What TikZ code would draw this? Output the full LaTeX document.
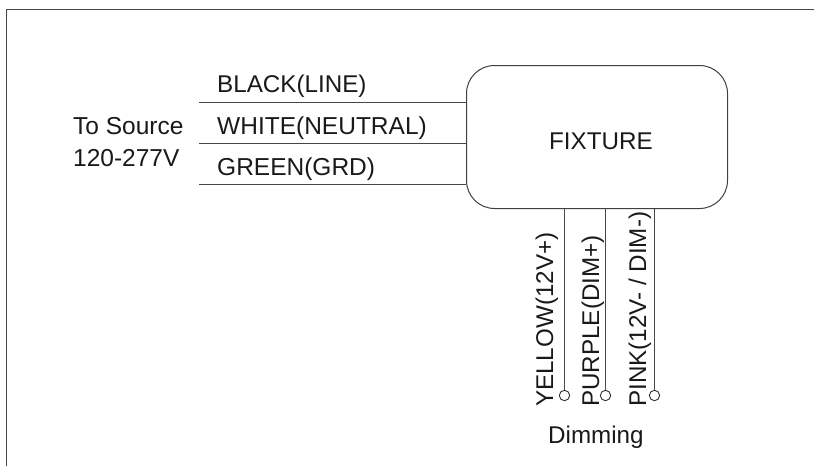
\documentclass[tikz,border=0pt]{standalone}
\usepackage{fontspec}
\setmainfont{Liberation Sans}
\tikzset{
  wire/.style={draw=black!72,line width=1pt},
  lbl/.style={inner sep=0pt,anchor=base west,font=\fontsize{24.5}{28}\selectfont,text=black!90},
  lblsmall/.style={lbl,font=\fontsize{24.2}{28}\selectfont},
  vlbl/.style={lblsmall,rotate=90},
  term/.style={circle,draw=black!80,line width=0.9pt,minimum size=10.4pt,inner sep=0pt},
  fixturebox/.style={draw=black!75,line width=1pt,rounded corners=28pt,minimum width=261pt,minimum height=143pt,inner sep=0pt,anchor=north west}
}
\begin{document}
\begin{tikzpicture}[x=1pt,y=-1pt]
\useasboundingbox (0,0) rectangle (814,466);
\coordinate (ftl) at (6.5,9.5);
\coordinate (ftr) at (814,9.5);
\coordinate (fbl) at (6.5,466);
\draw[wire] (fbl) -- (ftl) -- (ftr);
\node[fixturebox] (box) at (466,65) {};
\node[lblsmall] (fixt) at (549,149.5) {FIXTURE};
\coordinate (w1) at (199,102);
\coordinate (w2) at (199,143);
\coordinate (w3) at (199,184);
\draw[wire] (w1) -- (w1 -| box.west);
\draw[wire] (w2) -- (w2 -| box.west);
\draw[wire] (w3) -- (w3 -| box.west);
\node[lblsmall] (lb1) at (217,92.5) {BLACK(LINE)};
\node[lbl] (lb2) at (217,134.5) {WHITE(NEUTRAL)};
\node[lbl] (lb3) at (217,175.5) {GREEN(GRD)};
\node[lbl] (src1) at (73,134.5) {To Source};
\node[lbl] (src2) at (73,166.5) {120-277V};
\node[term] (c1) at (564.5,395.5) {};
\node[term] (c2) at (605.5,395.5) {};
\node[term] (c3) at (654.5,395.5) {};
\draw[wire] (c1.north) -- (c1 |- box.south);
\draw[wire] (c2.north) -- (c2 |- box.south);
\draw[wire] (c3.north) -- (c3 |- box.south);
\node[vlbl] (v1) at (553,407) {YELLOW(12V+)};
\node[vlbl] (v2) at (599,407) {PURPLE(DIM+)};
\node[vlbl] (v3) at (646,407) {PINK(12V- / DIM-)};
\node[lblsmall] (dim) at (548,443) {Dimming};
\end{tikzpicture}
\end{document}
